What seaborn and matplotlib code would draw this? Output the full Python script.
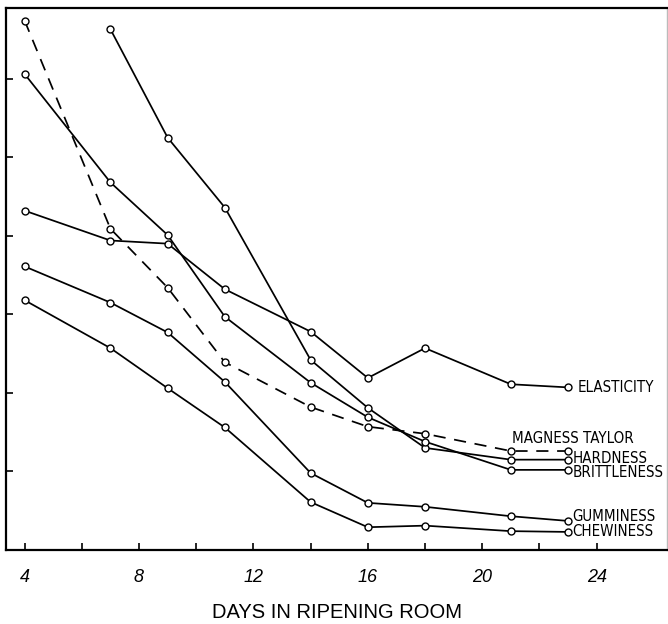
import matplotlib
matplotlib.use("Agg")
import matplotlib.pyplot as plt
import seaborn as sns

# Days sampled in the ripening room
days_full = [4, 7, 9, 11, 14, 16, 18, 21, 23]
days_hardness = [7, 9, 11, 14, 16, 18, 21, 23]

# Relative texture / firmness readings (one tick = one unit)
magness_taylor = [6.74, 4.09, 3.34, 2.39, 1.82, 1.57, 1.48, 1.26, 1.26]
elasticity = [4.32, 3.94, 3.90, 3.32, 2.78, 2.19, 2.57, 2.11, 2.07]
hardness = [6.63, 5.25, 4.36, 2.42, 1.81, 1.30, 1.15, 1.15]
brittleness = [6.06, 4.68, 4.01, 2.97, 2.13, 1.69, 1.38, 1.02, 1.02]
gumminess = [3.61, 3.15, 2.77, 2.14, 0.98, 0.60, 0.55, 0.43, 0.37]
chewiness = [3.18, 2.57, 2.06, 1.56, 0.61, 0.29, 0.31, 0.24, 0.23]

series = [
    ("ELASTICITY", days_full, elasticity, False, (7, 0)),
    ("MAGNESS TAYLOR", days_full, magness_taylor, True, (-40, 9)),
    ("HARDNESS", days_hardness, hardness, False, (3, 0.5)),
    ("BRITTLENESS", days_full, brittleness, False, (3, -2)),
    ("GUMMINESS", days_full, gumminess, False, (3, 3)),
    ("CHEWINESS", days_full, chewiness, False, (3, 0)),
]

x_ticks = [4, 8, 12, 16, 20, 24]
x_label = "DAYS IN RIPENING ROOM"

sns.set_style("ticks")
plt.rcParams["font.family"] = ["Liberation Sans", "DejaVu Sans"]
plt.rcParams["text.color"] = "black"
plt.rcParams["axes.labelcolor"] = "black"
plt.rcParams["xtick.color"] = "black"
plt.rcParams["ytick.color"] = "black"

fig = plt.figure(figsize=(6.68, 6.24), dpi=100)
ax = fig.add_axes([0.009, 0.1186, 0.9895, 0.8686])

for name, xs, ys, dashed, off in series:
    sns.lineplot(
        x=xs, y=ys, ax=ax, color="black", linewidth=1.25,
        marker="o", markersize=5, markerfacecolor="white",
        markeredgecolor="black", markeredgewidth=1.0,
        linestyle=(0, (7, 5)) if dashed else "-",
        estimator=None, sort=False,
    )
    ax.annotate(
        name, xy=(xs[-1], ys[-1]), xytext=off, textcoords="offset points",
        ha="left", va="center", fontsize=10.8, color="black",
        family=["DejaVu Sans"], fontstretch="condensed",
    )

ax.set_xlim(3.35, 26.46)
ax.set_ylim(0, 6.90)

ax.set_xticks(x_ticks)
ax.set_xticks(range(4, 26, 2), minor=True)
ax.set_xticklabels([str(t) for t in x_ticks], fontsize=13, fontstyle="italic")
ax.set_yticks(range(1, 7))
ax.set_yticklabels([])

ax.tick_params(axis="both", which="both", direction="in", length=5,
               width=1.2, color="black", labelcolor="black")
ax.tick_params(axis="x", which="major", pad=14)

ax.set_xlabel(x_label, fontsize=14.5, labelpad=12, color="black")
ax.set_ylabel("")

for side in ["left", "bottom", "top"]:
    ax.spines[side].set_color("black")
    ax.spines[side].set_linewidth(1.6)
ax.spines["right"].set_color("#bbbbbb")
ax.spines["right"].set_linewidth(1.0)

fig.savefig("out.png", dpi=100)
